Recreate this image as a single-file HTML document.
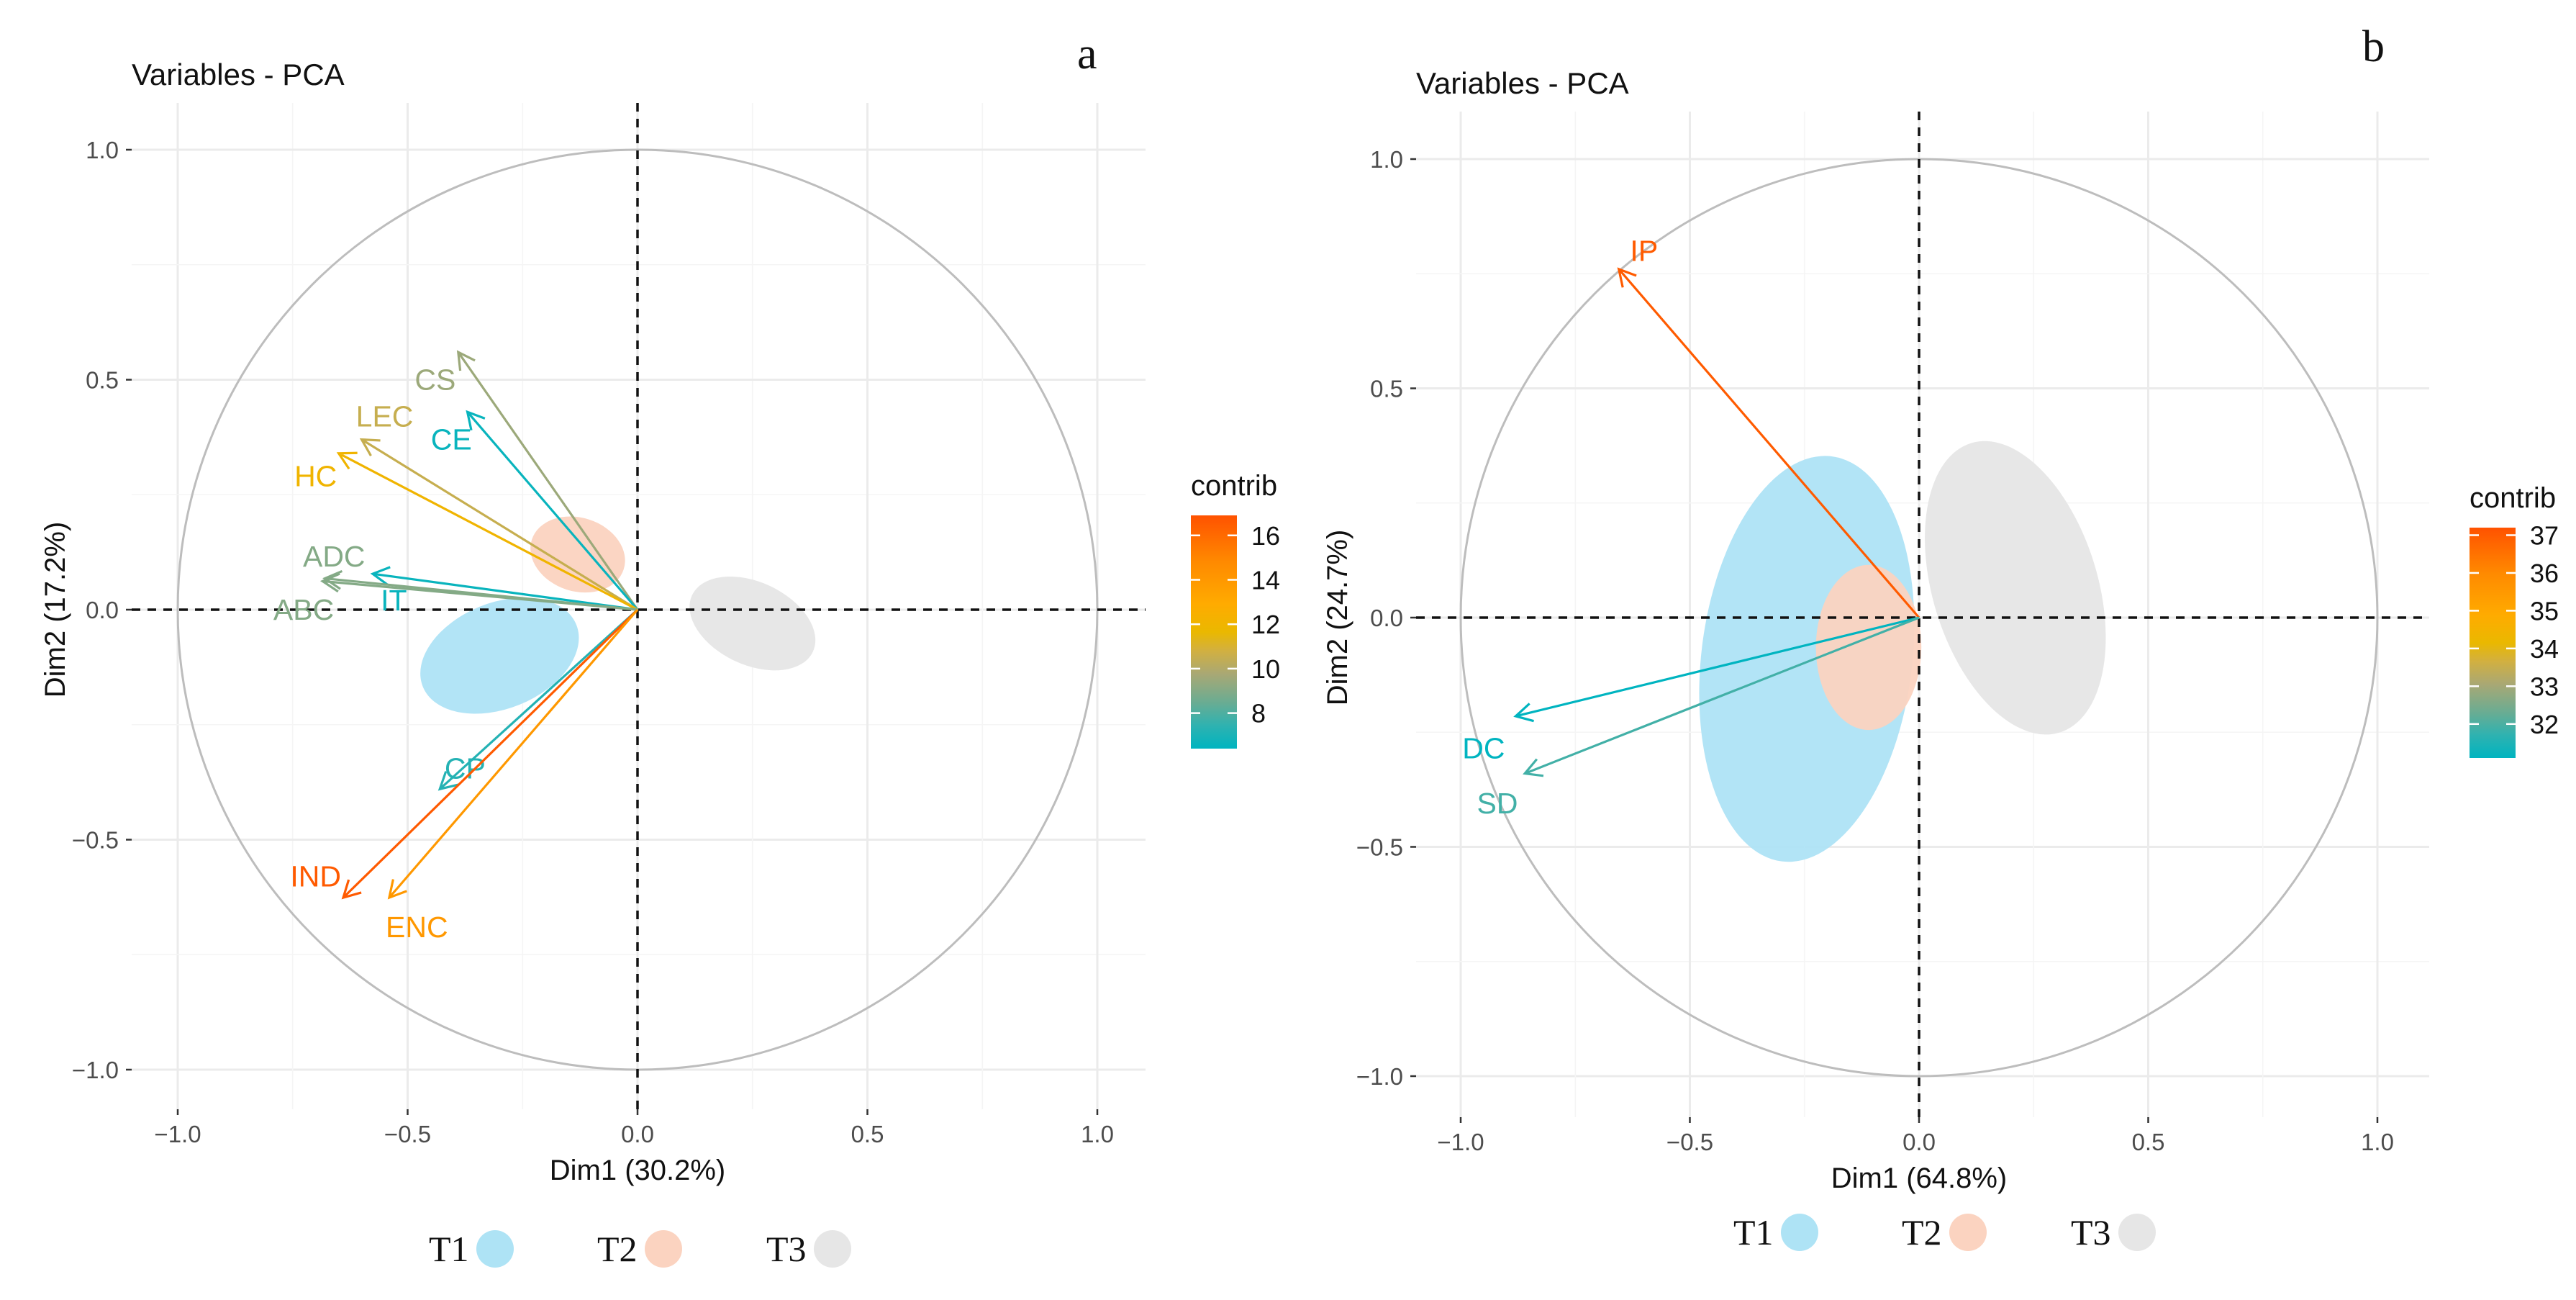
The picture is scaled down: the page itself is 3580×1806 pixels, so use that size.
<!DOCTYPE html>
<html><head><meta charset="utf-8">
<style>
html,body{margin:0;padding:0;background:#fff;}
svg{display:block;font-family:"Liberation Sans",Arial,sans-serif;}
</style></head>
<body>
<svg id="chart" width="3580" height="1806" viewBox="0 0 3580 1806" xmlns="http://www.w3.org/2000/svg">
<defs>
<linearGradient id="contribGrad" x1="0" y1="1" x2="0" y2="0">
<stop offset="0" stop-color="#00b4c0"/><stop offset="0.1" stop-color="#2fb2b0"/><stop offset="0.2" stop-color="#6bac92"/><stop offset="0.32" stop-color="#a9a874"/><stop offset="0.42" stop-color="#d2b040"/><stop offset="0.5" stop-color="#eab800"/><stop offset="0.62" stop-color="#ffab00"/><stop offset="0.8" stop-color="#ff8a00"/><stop offset="1" stop-color="#ff5200"/>
</linearGradient>
</defs>
</svg>
<script>
// ---- Panel a data ----
const varsA = ["CS","CE","LEC","HC","IT","ADC","ABC","CP","IND","ENC"];
const dim1A = [-0.39,-0.37,-0.60,-0.65,-0.576,-0.68,-0.685,-0.43,-0.64,-0.54];
const dim2A = [0.56,0.43,0.37,0.34,0.078,0.068,0.062,-0.39,-0.626,-0.626];
const contribA = [9.5,6.6,10.5,12,6.6,9,9,7.2,16.6,14];
const labelXA = [-0.44,-0.405,-0.55,-0.70,-0.53,-0.66,-0.726,-0.375,-0.70,-0.48];
const labelYA = [0.50,0.37,0.42,0.29,0.02,0.116,0.0,-0.345,-0.58,-0.69];
const contribTicksA = [8,10,12,14,16];
const contribRangeA = [6.4,16.9];
const groups = ["T1","T2","T3"];
const groupColors = ["#aee3f5","#fbd3c0","#e6e6e6"];
const ellCxA = [-0.30,-0.13,0.25];
const ellCyA = [-0.10,0.12,-0.03];
const ellRxA = [0.18,0.105,0.145];
const ellRyA = [0.115,0.08,0.09];
const ellAngA = [-22,18,25];
// ---- Panel b data ----
const varsB = ["IP","DC","SD"];
const dim1B = [-0.655,-0.88,-0.86];
const dim2B = [0.76,-0.215,-0.34];
const contribB = [37,31.1,31.9];
const labelXB = [-0.60,-0.95,-0.92];
const labelYB = [0.80,-0.285,-0.405];
const contribTicksB = [32,33,34,35,36,37];
const contribRangeB = [31.1,37.2];
const ellCxB = [-0.245,-0.11,0.21];
const ellCyB = [-0.09,-0.065,0.065];
const ellRxB = [0.23,0.115,0.18];
const ellRyB = [0.445,0.18,0.33];
const ellAngB = [7,0,-17];
const axisTicks = [-1.0,-0.5,0.0,0.5,1.0];
const tickLabels = ["\u22121.0","\u22120.5","0.0","0.5","1.0"];

const NS="http://www.w3.org/2000/svg";
const svg=document.getElementById('chart');
function mk(tag,attrs,parent){const e=document.createElementNS(NS,tag);for(const k in attrs)e.setAttribute(k,attrs[k]);(parent||svg).appendChild(e);return e;}
const gStops=[[0,[0,180,192]],[0.1,[47,178,176]],[0.2,[107,172,146]],[0.32,[169,168,116]],[0.42,[210,176,64]],[0.5,[234,184,0]],[0.62,[255,171,0]],[0.8,[255,138,0]],[1,[255,82,0]]];
function gradColor(v,range){
  let t=(v-range[0])/(range[1]-range[0]);t=Math.max(0,Math.min(1,t));
  for(let i=0;i<gStops.length-1;i++){
    const [t0,a]=gStops[i],[t1,b]=gStops[i+1];
    if(t<=t1){const u=(t-t0)/(t1-t0);return `rgb(${Math.round(a[0]+(b[0]-a[0])*u)},${Math.round(a[1]+(b[1]-a[1])*u)},${Math.round(a[2]+(b[2]-a[2])*u)})`;}
  }
  return 'rgb(255,82,0)';
}

function panel(p){
  const g=mk('g',{});
  
  
  const sx=v=>p.x0+v*p.u, sy=v=>p.y0-v*p.u;
  for(let v=-1;v<=1.0001;v+=0.25){
    const major=Math.abs(v*2-Math.round(v*2))<1e-6;
    const c=major?'#ebebeb':'#f5f5f5', w=major?3:1.6;
    const l1=mk('line',{x1:sx(v),x2:sx(v),y1:p.top,y2:p.bot,stroke:c,'stroke-width':w},g);
    
    
    const l2=mk('line',{x1:p.left,x2:p.right,y1:sy(v),y2:sy(v),stroke:c,'stroke-width':w},g);
    
    
  }
  for(let i=0;i<groups.length;i++){
    const e=mk('ellipse',{cx:sx(p.ecx[i]),cy:sy(p.ecy[i]),rx:p.erx[i]*p.u,ry:p.ery[i]*p.u,fill:groupColors[i],
      transform:`rotate(${p.eang[i]} ${sx(p.ecx[i])} ${sy(p.ecy[i])})`,'fill-opacity':0.95},g);
    
    
  }
  const c=mk('circle',{cx:p.x0,cy:p.y0,r:p.u,fill:'none',stroke:'#bdbdbd','stroke-width':3},g);
  
  
  const hx=mk('line',{x1:p.left,x2:p.right,y1:p.y0,y2:p.y0,stroke:'#111','stroke-width':3.5,'stroke-dasharray':'12 10'},g);
  
  
  const vx=mk('line',{x1:p.x0,x2:p.x0,y1:p.top,y2:p.bot,stroke:'#111','stroke-width':3.5,'stroke-dasharray':'12 10'},g);
  
  
  for(let i=0;i<p.vars.length;i++){
    const col=gradColor(p.contrib[i],p.range);
    const x=sx(p.d1[i]),y=sy(p.d2[i]);
    const ang=Math.atan2(y-p.y0,x-p.x0), L=26, a=0.5;
    const ar=mk('path',{d:`M${p.x0},${p.y0}L${x},${y}M${x-L*Math.cos(ang-a)},${y-L*Math.sin(ang-a)}L${x},${y}L${x-L*Math.cos(ang+a)},${y-L*Math.sin(ang+a)}`,
      stroke:col,'stroke-width':3.2,fill:'none'},g);
    
    
    const t=mk('text',{x:sx(p.lx[i]),y:sy(p.ly[i])+14,fill:col,'font-size':41,'text-anchor':'middle'},g);
    t.textContent=p.vars[i];
    
    
  }
  for(let i=0;i<axisTicks.length;i++){
    const v=axisTicks[i];
    const tx=mk('text',{x:sx(v),y:p.bot+46,'font-size':33,fill:'#4d4d4d','text-anchor':'middle'},g);
    tx.textContent=tickLabels[i];
    
    
    mk('line',{x1:sx(v),x2:sx(v),y1:p.bot,y2:p.bot+8,stroke:'#333','stroke-width':2.5},g);
    const ty=mk('text',{x:p.left-18,y:sy(v)+12,'font-size':33,fill:'#4d4d4d','text-anchor':'end'},g);
    ty.textContent=tickLabels[i];
    
    
    mk('line',{x1:p.left-8,x2:p.left,y1:sy(v),y2:sy(v),stroke:'#333','stroke-width':2.5},g);
  }
  const xt=mk('text',{x:p.x0,y:p.bot+98,'font-size':40,fill:'#111','text-anchor':'middle'},g);
  xt.textContent=p.xtitle;
  
  
  const yt=mk('text',{x:0,y:0,'font-size':40,fill:'#111','text-anchor':'middle',transform:`translate(${p.ytx},${p.y0}) rotate(-90)`},g);
  yt.textContent=p.ytitle;
  
  
  const tt=mk('text',{x:p.left,y:p.titleY,'font-size':42,fill:'#111'},g);
  tt.textContent='Variables - PCA';
  
  
  const pl=mk('text',{x:p.letterX,y:p.letterY,'font-size':62,fill:'#111','font-family':'"Liberation Serif",serif'},g);
  pl.textContent=p.letter;
  
  
  const lt=mk('text',{x:p.cbx,y:p.cby-28,'font-size':40,fill:'#111'},g);
  lt.textContent='contrib';
  
  
  const cb=mk('rect',{x:p.cbx,y:p.cby,width:64,height:p.cbh,fill:'url(#contribGrad)'},g);
  
  
  for(const v of p.cticks){
    const yy=p.cby+p.cbh-(v-p.range[0])/(p.range[1]-p.range[0])*p.cbh;
    mk('line',{x1:p.cbx,x2:p.cbx+13,y1:yy,y2:yy,stroke:'#fff','stroke-width':2.5},g);
    mk('line',{x1:p.cbx+51,x2:p.cbx+64,y1:yy,y2:yy,stroke:'#fff','stroke-width':2.5},g);
    const ct=mk('text',{x:p.cbx+84,y:yy+13,'font-size':36,fill:'#111'},g);
    ct.textContent=String(v);
    
    
  }
  for(let i=0;i<groups.length;i++){
    const lg=mk('text',{x:p.legX[i],y:p.legY+17,'font-size':50,fill:'#111','font-family':'"Liberation Serif",serif'},g);
    lg.textContent=groups[i];
    
    
    const lc=mk('circle',{cx:p.legX[i]+92,cy:p.legY,r:26,fill:groupColors[i]},g);
    
    
  }
}

panel({name:'panel-a',x0:886,y0:847,u:639,left:183,right:1592,top:143,bot:1541,
  vars:varsA,d1:dim1A,d2:dim2A,contrib:contribA,lx:labelXA,ly:labelYA,range:contribRangeA,cticks:contribTicksA,
  ecx:ellCxA,ecy:ellCyA,erx:ellRxA,ery:ellRyA,eang:ellAngA,
  xtitle:'Dim1 (30.2%)',ytitle:'Dim2 (17.2%)',ytx:90,titleY:118,letter:'a',letterX:1497,letterY:95,
  cbx:1655,cby:716,cbh:324,legX:[596,830,1065],legY:1735});
panel({name:'panel-b',x0:2667,y0:858,u:637,left:1968,right:3376,top:155,bot:1552,
  vars:varsB,d1:dim1B,d2:dim2B,contrib:contribB,lx:labelXB,ly:labelYB,range:contribRangeB,cticks:contribTicksB,
  ecx:ellCxB,ecy:ellCyB,erx:ellRxB,ery:ellRyB,eang:ellAngB,
  xtitle:'Dim1 (64.8%)',ytitle:'Dim2 (24.7%)',ytx:1872,titleY:130,letter:'b',letterX:3283,letterY:85,
  cbx:3432,cby:733,cbh:320,legX:[2409,2643,2878],legY:1712});
</script>
</body></html>
